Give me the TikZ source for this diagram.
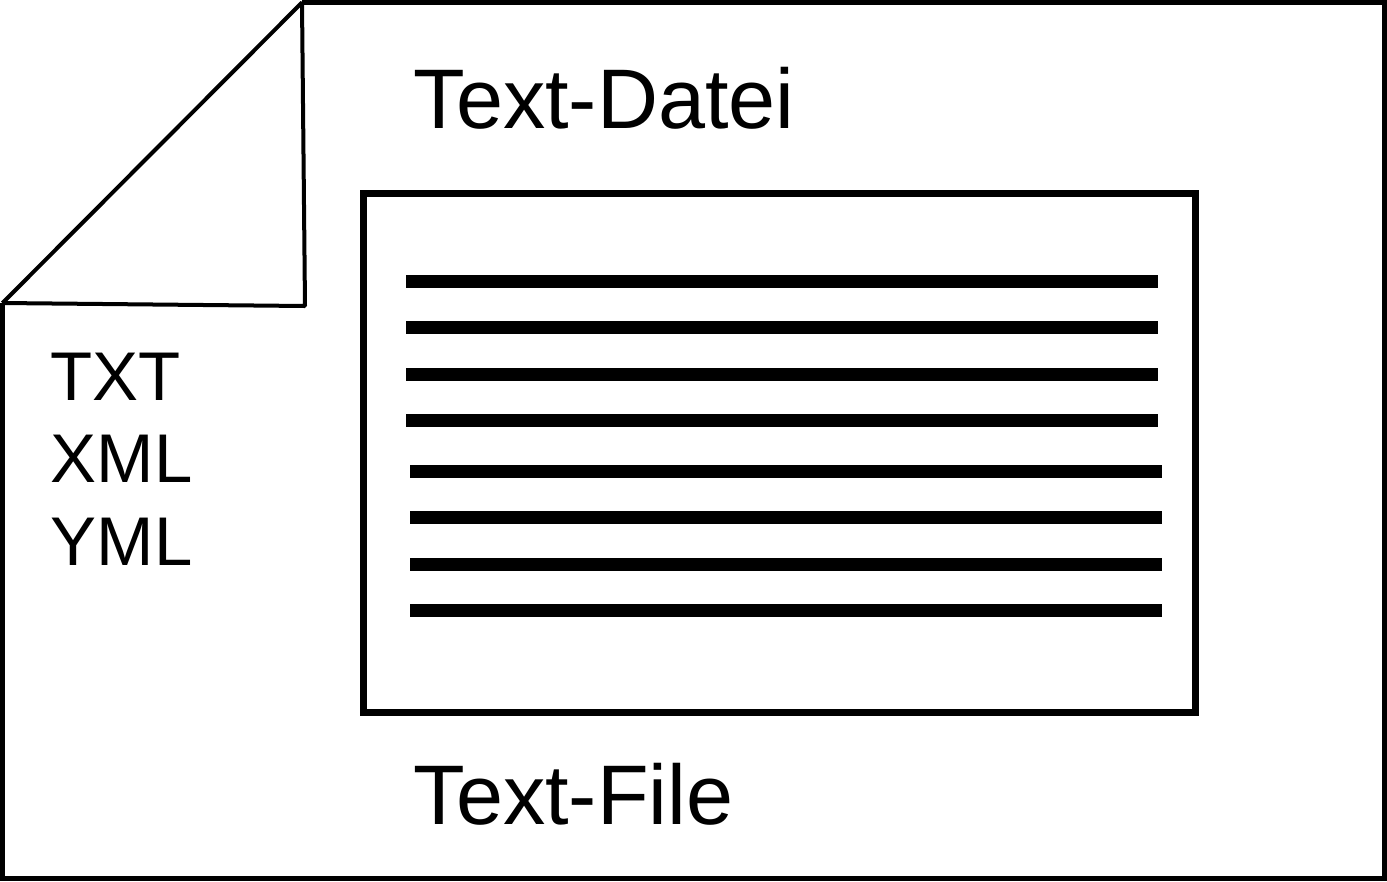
\documentclass[tikz,border=0pt]{standalone}
\usepackage{fontspec}
\setmainfont{Liberation Sans}
\begin{document}
\begin{tikzpicture}[x=0.01cm, y=-0.01cm,
    sheet/.style={draw, line width=0.05cm},
    foldline/.style={draw, line width=0.04cm, line join=bevel},
    textline/.style={draw, line width=0.13cm},
    bigtext/.style={anchor=base west, inner sep=0pt, font=\fontsize{24.05pt}{29pt}\selectfont},
    typetext/.style={anchor=base west, inner sep=0pt, font=\fontsize{19.6pt}{24pt}\selectfont}]
    \useasboundingbox (0, 0) rectangle (1387, 881);

    \coordinate (tip) at (302, 2.5);
    \coordinate (tr) at (1384.5, 2.5);
    \coordinate (br) at (1384.5, 878.5);
    \coordinate (bl) at (2.5, 878.5);
    \coordinate (left) at (2.5, 303);
    \coordinate (fold) at (305, 306);

    \draw[sheet] (left) -- (bl) -- (br) -- (tr) -- (tip);
    \draw[foldline] (left) -- (tip) -- (fold) -- (left);

    \node (datei) [bigtext] at (413, 128) {Text-Datei};
    \node (file) [bigtext] at (413, 824) {Text-File};

    \node (txt) [typetext] at (50, 400) {TXT};
    \node (xml) [typetext] at (50, 482) {XML};
    \node (yml) [typetext] at (50, 565) {YML};

    \coordinate (boxa) at (363.5, 193.5);
    \coordinate (boxb) at (1195.5, 712.5);
    \draw[line width=0.07cm] (boxa) rectangle (boxb);

    \foreach \i/\y in {1/281.5, 2/327.5, 3/374.5, 4/420.5} {
        \coordinate (a\i) at (406, \y);
        \coordinate (b\i) at (1158, \y);
        \draw[textline] (a\i) -- (b\i);
    }
    \foreach \i/\y in {5/471.5, 6/517.5, 7/564.5, 8/610.5} {
        \coordinate (a\i) at (410, \y);
        \coordinate (b\i) at (1162, \y);
        \draw[textline] (a\i) -- (b\i);
    }
\end{tikzpicture}
\end{document}
